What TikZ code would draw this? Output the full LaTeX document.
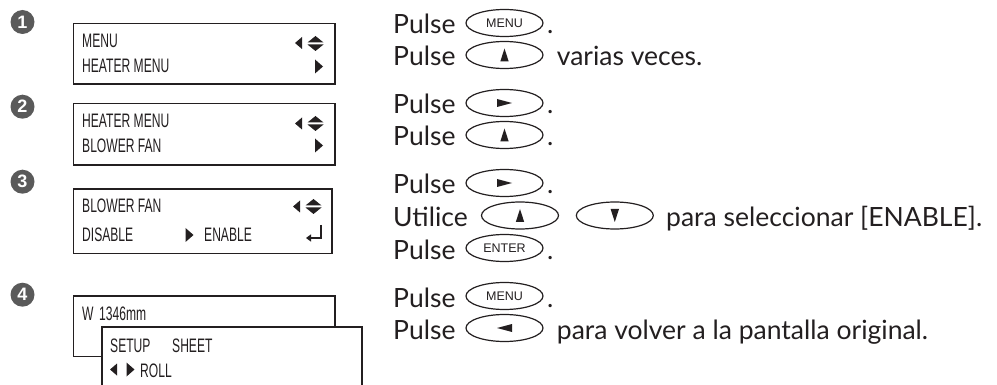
\documentclass[tikz,border=0pt]{standalone}
\usepackage{fontspec}
\setmainfont{Lato}
\newfontfamily\lcdfont[FakeStretch=0.62]{Liberation Sans}
\newfontfamily\keyfont{Liberation Sans}
\usetikzlibrary{shapes.geometric, arrows.meta, positioning}
\definecolor{inkdraw}{HTML}{231F20}
\definecolor{numfill}{HTML}{5A5A5A}
\tikzset{
  txt/.style={anchor=base west, inner sep=0pt, font=\fontsize{26.5}{31}\selectfont, text=inkdraw},
  lcd/.style={rectangle, draw=inkdraw, line width=1.6pt, fill=white, anchor=north west, inner sep=0pt},
  lcdline/.style={draw=inkdraw, line width=1.6pt},
  lcdtxt/.style={anchor=base west, inner sep=0pt, font=\lcdfont\fontsize{19.5}{22}\selectfont, text=inkdraw},
  stepnum/.style={circle, fill=numfill, text=white, minimum size=24pt, inner sep=0pt, font=\keyfont\bfseries\fontsize{18}{18}\selectfont},
  key/.style={ellipse, draw=inkdraw, line width=1.2pt, minimum width=77pt, minimum height=27pt, inner sep=0pt, font=\keyfont\fontsize{12.5}{12.5}\selectfont, text=inkdraw},
  pics/lcdleft/.style={code={\fill[inkdraw] (-3.5,0) -- (3.5,-6) -- (3.5,6) -- cycle;}},
  pics/lcdright/.style={code={\fill[inkdraw] (4,0) -- (-4,-7) -- (-4,7) -- cycle;}},
  pics/lcdupdown/.style={code={
    \fill[inkdraw] (0,-7.5) -- (8,-1) -- (-8,-1) -- cycle;
    \fill[inkdraw] (0,7.5) -- (8,1) -- (-8,1) -- cycle;}},
  pics/keyup/.style={code={\fill[inkdraw] (0,-6.5) -- (4.2,6.5) -- (-4.2,6.5) -- cycle;}},
  pics/keyright/.style={code={\fill[inkdraw] (7.5,0) -- (-7.5,-4) -- (-7.5,4) -- cycle;}},
}

\begin{document}
\begin{tikzpicture}[x=1pt, y=-1pt]
  \useasboundingbox (0,0) rectangle (997,385);
  \node[stepnum] (n1) at (22.5,22)    {1};
  \node[stepnum] (n2) at (22.5,106.7) {2};
  \node[stepnum] (n3) at (22.5,181.7) {3};
  \node[stepnum] (n4) at (22.5,294.7) {4};

  \node[lcd, minimum width=261.5pt, minimum height=60.8pt] (box1) at (72.5,22.7) {};
  \node[lcdtxt] (box1a) at (82,48) {MENU};
  \node[lcdtxt] (box1b) at (82,73) {HEATER MENU};
  \pic at (298.5,43) {lcdleft};
  \pic at (315.5,43.5) {lcdupdown};
  \pic at (319,66.5) {lcdright};

  \node[lcd, minimum width=261.5pt, minimum height=61.3pt] (box2) at (72.5,102.7) {};
  \node[lcdtxt] (box2a) at (82,128) {HEATER MENU};
  \node[lcdtxt] (box2b) at (82,153) {BLOWER FAN};
  \pic at (298.5,123.5) {lcdleft};
  \pic at (315.5,123.5) {lcdupdown};
  \pic at (319,145.5) {lcdright};

  \node[lcd, minimum width=258.5pt, minimum height=64.7pt] (box3) at (72.5,188) {};
  \node[lcdtxt] (box3a) at (82,213) {BLOWER FAN};
  \node[lcdtxt] (box3b) at (82,242) {DISABLE};
  \pic at (189.5,235) {lcdright};
  \node[lcdtxt] (box3c) at (204,242) {ENABLE};
  \pic at (296.5,206.5) {lcdleft};
  \pic at (313.5,206.5) {lcdupdown};
  \draw[inkdraw, line width=1.3pt, -{Triangle[length=5pt, width=7pt]}] (321,225) |- (306,238);

  \node[lcd, minimum width=261.5pt, minimum height=60.5pt] (box4) at (72.5,295) {};
  \node[lcdtxt] (box4a) at (82,320) {W};
  \node[lcdtxt] (box4b) at (99,320) {1346mm};
  \fill[white] (101.7,326.7) rectangle (361.7,385);
  \draw[lcdline] (101.7,385) |- (361.7,326.7) -- (361.7,385);
  \node[lcdtxt] (box5a) at (110,352) {SETUP};
  \node[lcdtxt] (box5b) at (172,352) {SHEET};
  \pic at (113.5,369.5) {lcdleft};
  \pic at (130.5,369.5) {lcdright};
  \node[lcdtxt] (box5c) at (140,377) {ROLL};

  \node[txt] (l1) at (393,34) {Pulse};
  \node[key] (k1) at (504.5,23) {MENU};
  \node[txt] (l1e) at (547,34) {.};

  \node[txt] (l2) at (393,66) {Pulse};
  \node[key] (k2) at (504.5,55) {};
  \pic at (k2) {keyup};
  \node[txt] (l2e) at (556.7,66) {varias veces.};

  \node[txt] (l3) at (393,114) {Pulse};
  \node[key] (k3) at (504.5,103) {};
  \pic at (k3) {keyright};
  \node[txt] (l3e) at (547,114) {.};

  \node[txt] (l4) at (393,146) {Pulse};
  \node[key] (k4) at (504.5,135) {};
  \pic at (k4) {keyup};
  \node[txt] (l4e) at (547,146) {.};

  \node[txt] (l5) at (393,194) {Pulse};
  \node[key] (k5) at (504.5,183) {};
  \pic at (k5) {keyright};
  \node[txt] (l5e) at (547,194) {.};

  \node[txt] (l6) at (393,226.5) {Utilice};
  \node[key] (k6) at (520,215.5) {};
  \pic at (k6) {keyup};
  \node[key] (k7) at (614.8,215.5) {};
  \pic[rotate=180] at (k7) {keyup};
  \node[txt] (l6e) at (666,226.5) {para seleccionar [ENABLE].};

  \node[txt] (l7) at (393,259) {Pulse};
  \node[key] (k8) at (504.5,248) {ENTER};
  \node[txt] (l7e) at (547,259) {.};

  \node[txt] (l8) at (393,307) {Pulse};
  \node[key] (k9) at (504.5,296) {MENU};
  \node[txt] (l8e) at (547,307) {.};

  \node[txt] (l9) at (393,339) {Pulse};
  \node[key] (k10) at (504.5,328) {};
  \pic[rotate=180] at (k10) {keyright};
  \node[txt] (l9e) at (556.7,339) {para volver a la pantalla original.};
\end{tikzpicture}
\end{document}
